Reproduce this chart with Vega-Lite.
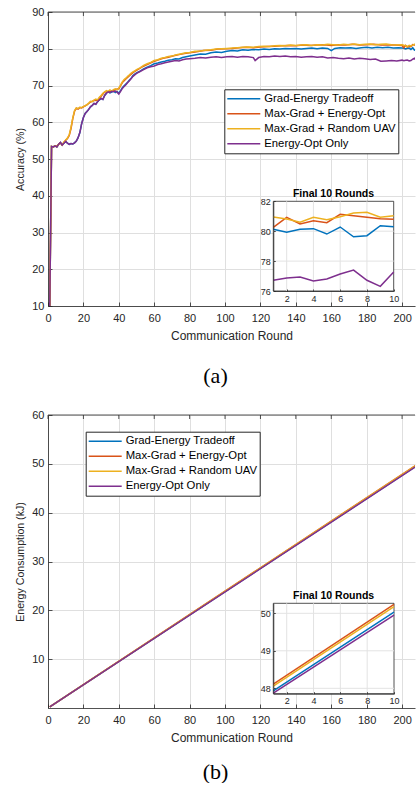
{
"$schema": "https://vega.github.io/schema/vega-lite/v6.json",
"background": "white",
"padding": {"left": 15, "top": 6, "right": 0, "bottom": 0},
"spacing": 22,
"config": {
  "font": "Liberation Sans",
  "view": {"stroke": null},
  "axis": {"labelFont": "Liberation Sans", "titleFont": "Liberation Sans", "labelColor": "#262626", "titleColor": "#262626", "domainColor": "#262626", "tickColor": "#262626", "titleFontWeight": "normal", "labelFontSize": 11, "titleFontSize": 12, "gridColor": "#dfdfdf", "gridWidth": 1, "domainWidth": 0.8, "tickWidth": 0.8, "labelFlush": false, "labelOverlap": false},
  "legend": {"orient": "none", "title": null, "symbolType": "stroke", "symbolSize": 1089, "symbolStrokeWidth": 1.5, "clipHeight": 15, "rowPadding": 0, "padding": 2, "labelFontSize": 11.3, "labelFont": "Liberation Sans", "labelColor": "black", "strokeColor": "#262626", "fillColor": "white", "labelOffset": 3, "labelLimit": 0},
  "title": {"font": "Liberation Serif", "fontSize": 22, "fontWeight": "normal", "color": "black", "orient": "bottom", "dx": -16}
},
"resolve": {"scale": {"color": "independent"}},
"datasets": {
  "acc": [
    {"m":"Grad-Energy Tradeoff","r":1,"v":10},{"m":"Grad-Energy Tradeoff","r":2,"v":53.4},{"m":"Grad-Energy Tradeoff","r":3,"v":53.3},{"m":"Grad-Energy Tradeoff","r":4,"v":53.6},{"m":"Grad-Energy Tradeoff","r":5,"v":53.3},{"m":"Grad-Energy Tradeoff","r":6,"v":54.0},{"m":"Grad-Energy Tradeoff","r":7,"v":54.5},{"m":"Grad-Energy Tradeoff","r":8,"v":53.8},{"m":"Grad-Energy Tradeoff","r":9,"v":54.3},{"m":"Grad-Energy Tradeoff","r":10,"v":54.8},{"m":"Grad-Energy Tradeoff","r":11,"v":54.3},{"m":"Grad-Energy Tradeoff","r":12,"v":54.0},{"m":"Grad-Energy Tradeoff","r":13,"v":54.2},{"m":"Grad-Energy Tradeoff","r":14,"v":54.1},{"m":"Grad-Energy Tradeoff","r":15,"v":54.4},{"m":"Grad-Energy Tradeoff","r":16,"v":54.9},{"m":"Grad-Energy Tradeoff","r":17,"v":55.8},{"m":"Grad-Energy Tradeoff","r":18,"v":57.2},{"m":"Grad-Energy Tradeoff","r":19,"v":59.6},{"m":"Grad-Energy Tradeoff","r":20,"v":61.3},{"m":"Grad-Energy Tradeoff","r":21,"v":62.4},{"m":"Grad-Energy Tradeoff","r":22,"v":62.9},{"m":"Grad-Energy Tradeoff","r":23,"v":63.5},{"m":"Grad-Energy Tradeoff","r":24,"v":64.2},{"m":"Grad-Energy Tradeoff","r":25,"v":64.6},{"m":"Grad-Energy Tradeoff","r":26,"v":65.1},{"m":"Grad-Energy Tradeoff","r":27,"v":64.9},{"m":"Grad-Energy Tradeoff","r":28,"v":65.6},{"m":"Grad-Energy Tradeoff","r":29,"v":66.1},{"m":"Grad-Energy Tradeoff","r":30,"v":66.5},{"m":"Grad-Energy Tradeoff","r":31,"v":66.2},{"m":"Grad-Energy Tradeoff","r":32,"v":67.3},{"m":"Grad-Energy Tradeoff","r":33,"v":67.9},{"m":"Grad-Energy Tradeoff","r":34,"v":68.3},{"m":"Grad-Energy Tradeoff","r":35,"v":68.0},{"m":"Grad-Energy Tradeoff","r":36,"v":68.2},{"m":"Grad-Energy Tradeoff","r":37,"v":68.5},{"m":"Grad-Energy Tradeoff","r":38,"v":68.1},{"m":"Grad-Energy Tradeoff","r":39,"v":68.4},{"m":"Grad-Energy Tradeoff","r":40,"v":67.9},{"m":"Grad-Energy Tradeoff","r":41,"v":68.6},{"m":"Grad-Energy Tradeoff","r":42,"v":69.4},{"m":"Grad-Energy Tradeoff","r":43,"v":69.9},{"m":"Grad-Energy Tradeoff","r":44,"v":70.4},{"m":"Grad-Energy Tradeoff","r":45,"v":70.9},{"m":"Grad-Energy Tradeoff","r":46,"v":71.5},{"m":"Grad-Energy Tradeoff","r":47,"v":72.0},{"m":"Grad-Energy Tradeoff","r":48,"v":72.7},{"m":"Grad-Energy Tradeoff","r":49,"v":73.1},{"m":"Grad-Energy Tradeoff","r":50,"v":73.4},{"m":"Grad-Energy Tradeoff","r":52,"v":73.9},{"m":"Grad-Energy Tradeoff","r":54,"v":74.5},{"m":"Grad-Energy Tradeoff","r":56,"v":75.0},{"m":"Grad-Energy Tradeoff","r":58,"v":75.4},{"m":"Grad-Energy Tradeoff","r":60,"v":75.9},{"m":"Grad-Energy Tradeoff","r":62,"v":76.1},{"m":"Grad-Energy Tradeoff","r":64,"v":76.4},{"m":"Grad-Energy Tradeoff","r":66,"v":76.6},{"m":"Grad-Energy Tradeoff","r":68,"v":76.9},{"m":"Grad-Energy Tradeoff","r":70,"v":77.0},{"m":"Grad-Energy Tradeoff","r":72,"v":77.3},{"m":"Grad-Energy Tradeoff","r":74,"v":77.2},{"m":"Grad-Energy Tradeoff","r":76,"v":77.6},{"m":"Grad-Energy Tradeoff","r":78,"v":77.8},{"m":"Grad-Energy Tradeoff","r":80,"v":78.0},{"m":"Grad-Energy Tradeoff","r":83,"v":78.3},{"m":"Grad-Energy Tradeoff","r":86,"v":78.6},{"m":"Grad-Energy Tradeoff","r":89,"v":78.5},{"m":"Grad-Energy Tradeoff","r":92,"v":78.9},{"m":"Grad-Energy Tradeoff","r":95,"v":79.1},{"m":"Grad-Energy Tradeoff","r":98,"v":79.0},{"m":"Grad-Energy Tradeoff","r":101,"v":79.3},{"m":"Grad-Energy Tradeoff","r":104,"v":79.5},{"m":"Grad-Energy Tradeoff","r":107,"v":79.4},{"m":"Grad-Energy Tradeoff","r":110,"v":79.7},{"m":"Grad-Energy Tradeoff","r":113,"v":79.6},{"m":"Grad-Energy Tradeoff","r":116,"v":79.8},{"m":"Grad-Energy Tradeoff","r":119,"v":79.7},{"m":"Grad-Energy Tradeoff","r":122,"v":79.9},{"m":"Grad-Energy Tradeoff","r":125,"v":79.8},{"m":"Grad-Energy Tradeoff","r":128,"v":80.0},{"m":"Grad-Energy Tradeoff","r":131,"v":79.9},{"m":"Grad-Energy Tradeoff","r":134,"v":80.1},{"m":"Grad-Energy Tradeoff","r":137,"v":80.0},{"m":"Grad-Energy Tradeoff","r":140,"v":80.1},{"m":"Grad-Energy Tradeoff","r":143,"v":79.9},{"m":"Grad-Energy Tradeoff","r":146,"v":80.1},{"m":"Grad-Energy Tradeoff","r":149,"v":80.2},{"m":"Grad-Energy Tradeoff","r":152,"v":80.0},{"m":"Grad-Energy Tradeoff","r":155,"v":80.2},{"m":"Grad-Energy Tradeoff","r":158,"v":80.1},{"m":"Grad-Energy Tradeoff","r":160,"v":79.5},{"m":"Grad-Energy Tradeoff","r":162,"v":80.1},{"m":"Grad-Energy Tradeoff","r":165,"v":80.3},{"m":"Grad-Energy Tradeoff","r":168,"v":80.2},{"m":"Grad-Energy Tradeoff","r":171,"v":80.3},{"m":"Grad-Energy Tradeoff","r":174,"v":80.1},{"m":"Grad-Energy Tradeoff","r":177,"v":80.3},{"m":"Grad-Energy Tradeoff","r":180,"v":80.4},{"m":"Grad-Energy Tradeoff","r":183,"v":80.2},{"m":"Grad-Energy Tradeoff","r":186,"v":80.4},{"m":"Grad-Energy Tradeoff","r":189,"v":80.3},{"m":"Grad-Energy Tradeoff","r":192,"v":80.4},{"m":"Grad-Energy Tradeoff","r":195,"v":80.2},{"m":"Grad-Energy Tradeoff","r":198,"v":80.3},{"m":"Grad-Energy Tradeoff","r":200,"v":80.2},{"m":"Grad-Energy Tradeoff","r":201,"v":80.13},{"m":"Grad-Energy Tradeoff","r":202,"v":79.93},{"m":"Grad-Energy Tradeoff","r":203,"v":80.13},{"m":"Grad-Energy Tradeoff","r":204,"v":80.17},{"m":"Grad-Energy Tradeoff","r":205,"v":79.81},{"m":"Grad-Energy Tradeoff","r":206,"v":80.28},{"m":"Grad-Energy Tradeoff","r":207,"v":79.63},{"m":"Grad-Energy Tradeoff","r":208,"v":79.7},{"m":"Grad-Energy Tradeoff","r":209,"v":80.37},{"m":"Grad-Energy Tradeoff","r":210,"v":80.3},
    {"m":"Max-Grad + Energy-Opt","r":1,"v":10},{"m":"Max-Grad + Energy-Opt","r":2,"v":53.4},{"m":"Max-Grad + Energy-Opt","r":3,"v":53.3},{"m":"Max-Grad + Energy-Opt","r":4,"v":53.6},{"m":"Max-Grad + Energy-Opt","r":5,"v":53.4},{"m":"Max-Grad + Energy-Opt","r":6,"v":54.0},{"m":"Max-Grad + Energy-Opt","r":7,"v":54.4},{"m":"Max-Grad + Energy-Opt","r":8,"v":53.8},{"m":"Max-Grad + Energy-Opt","r":9,"v":54.6},{"m":"Max-Grad + Energy-Opt","r":10,"v":55.1},{"m":"Max-Grad + Energy-Opt","r":11,"v":55.6},{"m":"Max-Grad + Energy-Opt","r":12,"v":56.4},{"m":"Max-Grad + Energy-Opt","r":13,"v":58.3},{"m":"Max-Grad + Energy-Opt","r":14,"v":61.0},{"m":"Max-Grad + Energy-Opt","r":15,"v":63.0},{"m":"Max-Grad + Energy-Opt","r":16,"v":63.8},{"m":"Max-Grad + Energy-Opt","r":17,"v":63.6},{"m":"Max-Grad + Energy-Opt","r":18,"v":64.0},{"m":"Max-Grad + Energy-Opt","r":19,"v":63.9},{"m":"Max-Grad + Energy-Opt","r":20,"v":64.2},{"m":"Max-Grad + Energy-Opt","r":22,"v":64.7},{"m":"Max-Grad + Energy-Opt","r":24,"v":65.5},{"m":"Max-Grad + Energy-Opt","r":26,"v":65.9},{"m":"Max-Grad + Energy-Opt","r":28,"v":66.0},{"m":"Max-Grad + Energy-Opt","r":30,"v":67.1},{"m":"Max-Grad + Energy-Opt","r":32,"v":68.2},{"m":"Max-Grad + Energy-Opt","r":34,"v":68.3},{"m":"Max-Grad + Energy-Opt","r":36,"v":68.4},{"m":"Max-Grad + Energy-Opt","r":38,"v":68.9},{"m":"Max-Grad + Energy-Opt","r":40,"v":69.1},{"m":"Max-Grad + Energy-Opt","r":42,"v":70.8},{"m":"Max-Grad + Energy-Opt","r":44,"v":71.8},{"m":"Max-Grad + Energy-Opt","r":46,"v":72.7},{"m":"Max-Grad + Energy-Opt","r":48,"v":73.5},{"m":"Max-Grad + Energy-Opt","r":50,"v":74.1},{"m":"Max-Grad + Energy-Opt","r":53,"v":75.0},{"m":"Max-Grad + Energy-Opt","r":56,"v":75.7},{"m":"Max-Grad + Energy-Opt","r":59,"v":76.4},{"m":"Max-Grad + Energy-Opt","r":62,"v":76.9},{"m":"Max-Grad + Energy-Opt","r":65,"v":77.4},{"m":"Max-Grad + Energy-Opt","r":68,"v":77.7},{"m":"Max-Grad + Energy-Opt","r":71,"v":78.1},{"m":"Max-Grad + Energy-Opt","r":74,"v":78.4},{"m":"Max-Grad + Energy-Opt","r":77,"v":78.7},{"m":"Max-Grad + Energy-Opt","r":80,"v":78.9},{"m":"Max-Grad + Energy-Opt","r":84,"v":79.2},{"m":"Max-Grad + Energy-Opt","r":88,"v":79.5},{"m":"Max-Grad + Energy-Opt","r":92,"v":79.6},{"m":"Max-Grad + Energy-Opt","r":96,"v":79.9},{"m":"Max-Grad + Energy-Opt","r":100,"v":80.0},{"m":"Max-Grad + Energy-Opt","r":104,"v":80.1},{"m":"Max-Grad + Energy-Opt","r":108,"v":80.3},{"m":"Max-Grad + Energy-Opt","r":112,"v":80.4},{"m":"Max-Grad + Energy-Opt","r":116,"v":80.3},{"m":"Max-Grad + Energy-Opt","r":120,"v":80.5},{"m":"Max-Grad + Energy-Opt","r":124,"v":80.6},{"m":"Max-Grad + Energy-Opt","r":128,"v":80.7},{"m":"Max-Grad + Energy-Opt","r":132,"v":80.8},{"m":"Max-Grad + Energy-Opt","r":136,"v":80.9},{"m":"Max-Grad + Energy-Opt","r":140,"v":80.8},{"m":"Max-Grad + Energy-Opt","r":144,"v":81.0},{"m":"Max-Grad + Energy-Opt","r":148,"v":80.9},{"m":"Max-Grad + Energy-Opt","r":152,"v":81.0},{"m":"Max-Grad + Energy-Opt","r":156,"v":81.1},{"m":"Max-Grad + Energy-Opt","r":160,"v":80.9},{"m":"Max-Grad + Energy-Opt","r":164,"v":81.1},{"m":"Max-Grad + Energy-Opt","r":168,"v":81.0},{"m":"Max-Grad + Energy-Opt","r":172,"v":81.2},{"m":"Max-Grad + Energy-Opt","r":176,"v":81.0},{"m":"Max-Grad + Energy-Opt","r":180,"v":81.1},{"m":"Max-Grad + Energy-Opt","r":184,"v":81.2},{"m":"Max-Grad + Energy-Opt","r":188,"v":81.0},{"m":"Max-Grad + Energy-Opt","r":192,"v":81.1},{"m":"Max-Grad + Energy-Opt","r":196,"v":81.0},{"m":"Max-Grad + Energy-Opt","r":200,"v":80.9},{"m":"Max-Grad + Energy-Opt","r":201,"v":80.26},{"m":"Max-Grad + Energy-Opt","r":202,"v":80.93},{"m":"Max-Grad + Energy-Opt","r":203,"v":80.48},{"m":"Max-Grad + Energy-Opt","r":204,"v":80.7},{"m":"Max-Grad + Energy-Opt","r":205,"v":80.57},{"m":"Max-Grad + Energy-Opt","r":206,"v":81.13},{"m":"Max-Grad + Energy-Opt","r":207,"v":81.04},{"m":"Max-Grad + Energy-Opt","r":208,"v":80.93},{"m":"Max-Grad + Energy-Opt","r":209,"v":80.84},{"m":"Max-Grad + Energy-Opt","r":210,"v":80.8},
    {"m":"Max-Grad + Random UAV","r":1,"v":10},{"m":"Max-Grad + Random UAV","r":2,"v":53.4},{"m":"Max-Grad + Random UAV","r":3,"v":53.3},{"m":"Max-Grad + Random UAV","r":4,"v":53.6},{"m":"Max-Grad + Random UAV","r":5,"v":53.4},{"m":"Max-Grad + Random UAV","r":6,"v":54.0},{"m":"Max-Grad + Random UAV","r":7,"v":54.4},{"m":"Max-Grad + Random UAV","r":8,"v":53.8},{"m":"Max-Grad + Random UAV","r":9,"v":54.6},{"m":"Max-Grad + Random UAV","r":10,"v":55.2},{"m":"Max-Grad + Random UAV","r":11,"v":55.7},{"m":"Max-Grad + Random UAV","r":12,"v":56.6},{"m":"Max-Grad + Random UAV","r":13,"v":58.6},{"m":"Max-Grad + Random UAV","r":14,"v":61.2},{"m":"Max-Grad + Random UAV","r":15,"v":63.2},{"m":"Max-Grad + Random UAV","r":16,"v":63.9},{"m":"Max-Grad + Random UAV","r":17,"v":63.7},{"m":"Max-Grad + Random UAV","r":18,"v":64.1},{"m":"Max-Grad + Random UAV","r":19,"v":64.0},{"m":"Max-Grad + Random UAV","r":20,"v":64.3},{"m":"Max-Grad + Random UAV","r":21,"v":64.5},{"m":"Max-Grad + Random UAV","r":22,"v":64.8},{"m":"Max-Grad + Random UAV","r":23,"v":65.2},{"m":"Max-Grad + Random UAV","r":24,"v":65.7},{"m":"Max-Grad + Random UAV","r":25,"v":65.6},{"m":"Max-Grad + Random UAV","r":26,"v":66.0},{"m":"Max-Grad + Random UAV","r":27,"v":66.3},{"m":"Max-Grad + Random UAV","r":28,"v":66.1},{"m":"Max-Grad + Random UAV","r":29,"v":66.8},{"m":"Max-Grad + Random UAV","r":30,"v":67.3},{"m":"Max-Grad + Random UAV","r":31,"v":67.9},{"m":"Max-Grad + Random UAV","r":32,"v":68.3},{"m":"Max-Grad + Random UAV","r":33,"v":68.6},{"m":"Max-Grad + Random UAV","r":34,"v":68.4},{"m":"Max-Grad + Random UAV","r":35,"v":68.8},{"m":"Max-Grad + Random UAV","r":36,"v":68.5},{"m":"Max-Grad + Random UAV","r":37,"v":68.9},{"m":"Max-Grad + Random UAV","r":38,"v":69.1},{"m":"Max-Grad + Random UAV","r":39,"v":68.8},{"m":"Max-Grad + Random UAV","r":40,"v":69.3},{"m":"Max-Grad + Random UAV","r":41,"v":70.1},{"m":"Max-Grad + Random UAV","r":42,"v":71.0},{"m":"Max-Grad + Random UAV","r":43,"v":71.6},{"m":"Max-Grad + Random UAV","r":44,"v":72.0},{"m":"Max-Grad + Random UAV","r":45,"v":72.5},{"m":"Max-Grad + Random UAV","r":46,"v":72.9},{"m":"Max-Grad + Random UAV","r":47,"v":73.4},{"m":"Max-Grad + Random UAV","r":48,"v":73.7},{"m":"Max-Grad + Random UAV","r":49,"v":74.0},{"m":"Max-Grad + Random UAV","r":50,"v":74.3},{"m":"Max-Grad + Random UAV","r":52,"v":74.8},{"m":"Max-Grad + Random UAV","r":54,"v":75.5},{"m":"Max-Grad + Random UAV","r":56,"v":75.9},{"m":"Max-Grad + Random UAV","r":58,"v":76.3},{"m":"Max-Grad + Random UAV","r":60,"v":76.8},{"m":"Max-Grad + Random UAV","r":62,"v":77.0},{"m":"Max-Grad + Random UAV","r":64,"v":77.4},{"m":"Max-Grad + Random UAV","r":66,"v":77.6},{"m":"Max-Grad + Random UAV","r":68,"v":77.9},{"m":"Max-Grad + Random UAV","r":70,"v":78.0},{"m":"Max-Grad + Random UAV","r":72,"v":78.3},{"m":"Max-Grad + Random UAV","r":74,"v":78.5},{"m":"Max-Grad + Random UAV","r":76,"v":78.7},{"m":"Max-Grad + Random UAV","r":78,"v":78.9},{"m":"Max-Grad + Random UAV","r":80,"v":79.0},{"m":"Max-Grad + Random UAV","r":83,"v":79.3},{"m":"Max-Grad + Random UAV","r":86,"v":79.4},{"m":"Max-Grad + Random UAV","r":89,"v":79.6},{"m":"Max-Grad + Random UAV","r":92,"v":79.7},{"m":"Max-Grad + Random UAV","r":95,"v":79.9},{"m":"Max-Grad + Random UAV","r":98,"v":80.0},{"m":"Max-Grad + Random UAV","r":101,"v":80.1},{"m":"Max-Grad + Random UAV","r":104,"v":80.2},{"m":"Max-Grad + Random UAV","r":107,"v":80.3},{"m":"Max-Grad + Random UAV","r":110,"v":80.4},{"m":"Max-Grad + Random UAV","r":113,"v":80.5},{"m":"Max-Grad + Random UAV","r":116,"v":80.4},{"m":"Max-Grad + Random UAV","r":119,"v":80.6},{"m":"Max-Grad + Random UAV","r":122,"v":80.7},{"m":"Max-Grad + Random UAV","r":125,"v":80.6},{"m":"Max-Grad + Random UAV","r":128,"v":80.8},{"m":"Max-Grad + Random UAV","r":131,"v":80.9},{"m":"Max-Grad + Random UAV","r":134,"v":80.8},{"m":"Max-Grad + Random UAV","r":137,"v":81.0},{"m":"Max-Grad + Random UAV","r":140,"v":80.9},{"m":"Max-Grad + Random UAV","r":143,"v":81.0},{"m":"Max-Grad + Random UAV","r":146,"v":81.1},{"m":"Max-Grad + Random UAV","r":149,"v":80.9},{"m":"Max-Grad + Random UAV","r":152,"v":81.1},{"m":"Max-Grad + Random UAV","r":155,"v":81.0},{"m":"Max-Grad + Random UAV","r":158,"v":81.2},{"m":"Max-Grad + Random UAV","r":161,"v":81.1},{"m":"Max-Grad + Random UAV","r":164,"v":81.0},{"m":"Max-Grad + Random UAV","r":167,"v":81.2},{"m":"Max-Grad + Random UAV","r":170,"v":81.1},{"m":"Max-Grad + Random UAV","r":173,"v":81.3},{"m":"Max-Grad + Random UAV","r":176,"v":81.1},{"m":"Max-Grad + Random UAV","r":179,"v":81.2},{"m":"Max-Grad + Random UAV","r":182,"v":81.3},{"m":"Max-Grad + Random UAV","r":185,"v":81.1},{"m":"Max-Grad + Random UAV","r":188,"v":81.2},{"m":"Max-Grad + Random UAV","r":191,"v":81.3},{"m":"Max-Grad + Random UAV","r":194,"v":81.1},{"m":"Max-Grad + Random UAV","r":197,"v":81.0},{"m":"Max-Grad + Random UAV","r":200,"v":81.1},{"m":"Max-Grad + Random UAV","r":201,"v":80.95},{"m":"Max-Grad + Random UAV","r":202,"v":80.82},{"m":"Max-Grad + Random UAV","r":203,"v":80.6},{"m":"Max-Grad + Random UAV","r":204,"v":80.93},{"m":"Max-Grad + Random UAV","r":205,"v":80.77},{"m":"Max-Grad + Random UAV","r":206,"v":80.97},{"m":"Max-Grad + Random UAV","r":207,"v":81.22},{"m":"Max-Grad + Random UAV","r":208,"v":81.26},{"m":"Max-Grad + Random UAV","r":209,"v":80.93},{"m":"Max-Grad + Random UAV","r":210,"v":81.04},
    {"m":"Energy-Opt Only","r":1,"v":10},{"m":"Energy-Opt Only","r":2,"v":53.4},{"m":"Energy-Opt Only","r":3,"v":53.3},{"m":"Energy-Opt Only","r":4,"v":53.6},{"m":"Energy-Opt Only","r":5,"v":53.3},{"m":"Energy-Opt Only","r":6,"v":54.0},{"m":"Energy-Opt Only","r":7,"v":54.5},{"m":"Energy-Opt Only","r":8,"v":53.8},{"m":"Energy-Opt Only","r":9,"v":54.3},{"m":"Energy-Opt Only","r":10,"v":54.8},{"m":"Energy-Opt Only","r":11,"v":54.3},{"m":"Energy-Opt Only","r":12,"v":54.0},{"m":"Energy-Opt Only","r":13,"v":54.2},{"m":"Energy-Opt Only","r":14,"v":54.1},{"m":"Energy-Opt Only","r":15,"v":54.4},{"m":"Energy-Opt Only","r":16,"v":54.9},{"m":"Energy-Opt Only","r":17,"v":55.8},{"m":"Energy-Opt Only","r":18,"v":57.2},{"m":"Energy-Opt Only","r":19,"v":59.6},{"m":"Energy-Opt Only","r":20,"v":61.3},{"m":"Energy-Opt Only","r":21,"v":62.4},{"m":"Energy-Opt Only","r":22,"v":62.9},{"m":"Energy-Opt Only","r":23,"v":63.5},{"m":"Energy-Opt Only","r":24,"v":64.2},{"m":"Energy-Opt Only","r":25,"v":64.6},{"m":"Energy-Opt Only","r":26,"v":65.1},{"m":"Energy-Opt Only","r":27,"v":64.9},{"m":"Energy-Opt Only","r":28,"v":65.6},{"m":"Energy-Opt Only","r":29,"v":66.1},{"m":"Energy-Opt Only","r":30,"v":66.5},{"m":"Energy-Opt Only","r":31,"v":66.2},{"m":"Energy-Opt Only","r":32,"v":67.3},{"m":"Energy-Opt Only","r":33,"v":67.9},{"m":"Energy-Opt Only","r":34,"v":68.3},{"m":"Energy-Opt Only","r":35,"v":68.1},{"m":"Energy-Opt Only","r":36,"v":68.4},{"m":"Energy-Opt Only","r":37,"v":68.3},{"m":"Energy-Opt Only","r":38,"v":68.5},{"m":"Energy-Opt Only","r":39,"v":68.2},{"m":"Energy-Opt Only","r":40,"v":67.7},{"m":"Energy-Opt Only","r":41,"v":68.4},{"m":"Energy-Opt Only","r":42,"v":69.2},{"m":"Energy-Opt Only","r":43,"v":69.7},{"m":"Energy-Opt Only","r":44,"v":70.2},{"m":"Energy-Opt Only","r":45,"v":70.8},{"m":"Energy-Opt Only","r":46,"v":71.3},{"m":"Energy-Opt Only","r":47,"v":71.9},{"m":"Energy-Opt Only","r":48,"v":72.5},{"m":"Energy-Opt Only","r":49,"v":72.9},{"m":"Energy-Opt Only","r":50,"v":73.3},{"m":"Energy-Opt Only","r":52,"v":73.8},{"m":"Energy-Opt Only","r":54,"v":74.3},{"m":"Energy-Opt Only","r":56,"v":74.8},{"m":"Energy-Opt Only","r":58,"v":75.1},{"m":"Energy-Opt Only","r":60,"v":75.3},{"m":"Energy-Opt Only","r":62,"v":75.7},{"m":"Energy-Opt Only","r":64,"v":75.9},{"m":"Energy-Opt Only","r":66,"v":76.2},{"m":"Energy-Opt Only","r":68,"v":76.4},{"m":"Energy-Opt Only","r":70,"v":76.6},{"m":"Energy-Opt Only","r":72,"v":76.8},{"m":"Energy-Opt Only","r":74,"v":76.7},{"m":"Energy-Opt Only","r":76,"v":77.0},{"m":"Energy-Opt Only","r":78,"v":77.2},{"m":"Energy-Opt Only","r":80,"v":77.3},{"m":"Energy-Opt Only","r":83,"v":77.4},{"m":"Energy-Opt Only","r":86,"v":77.6},{"m":"Energy-Opt Only","r":89,"v":77.5},{"m":"Energy-Opt Only","r":92,"v":77.7},{"m":"Energy-Opt Only","r":95,"v":77.8},{"m":"Energy-Opt Only","r":98,"v":77.6},{"m":"Energy-Opt Only","r":101,"v":77.8},{"m":"Energy-Opt Only","r":104,"v":77.9},{"m":"Energy-Opt Only","r":107,"v":77.7},{"m":"Energy-Opt Only","r":110,"v":77.9},{"m":"Energy-Opt Only","r":113,"v":77.8},{"m":"Energy-Opt Only","r":116,"v":77.6},{"m":"Energy-Opt Only","r":117,"v":76.8},{"m":"Energy-Opt Only","r":119,"v":77.6},{"m":"Energy-Opt Only","r":122,"v":77.9},{"m":"Energy-Opt Only","r":125,"v":77.8},{"m":"Energy-Opt Only","r":128,"v":78.0},{"m":"Energy-Opt Only","r":131,"v":77.9},{"m":"Energy-Opt Only","r":134,"v":78.0},{"m":"Energy-Opt Only","r":137,"v":77.8},{"m":"Energy-Opt Only","r":140,"v":77.9},{"m":"Energy-Opt Only","r":143,"v":77.7},{"m":"Energy-Opt Only","r":146,"v":77.8},{"m":"Energy-Opt Only","r":149,"v":77.9},{"m":"Energy-Opt Only","r":152,"v":77.7},{"m":"Energy-Opt Only","r":155,"v":77.8},{"m":"Energy-Opt Only","r":158,"v":77.5},{"m":"Energy-Opt Only","r":161,"v":77.6},{"m":"Energy-Opt Only","r":164,"v":77.4},{"m":"Energy-Opt Only","r":167,"v":77.3},{"m":"Energy-Opt Only","r":170,"v":77.5},{"m":"Energy-Opt Only","r":173,"v":77.2},{"m":"Energy-Opt Only","r":176,"v":77.4},{"m":"Energy-Opt Only","r":179,"v":77.3},{"m":"Energy-Opt Only","r":182,"v":77.1},{"m":"Energy-Opt Only","r":185,"v":77.2},{"m":"Energy-Opt Only","r":188,"v":76.6},{"m":"Energy-Opt Only","r":191,"v":76.7},{"m":"Energy-Opt Only","r":194,"v":76.8},{"m":"Energy-Opt Only","r":197,"v":76.7},{"m":"Energy-Opt Only","r":200,"v":76.9},{"m":"Energy-Opt Only","r":201,"v":76.72},{"m":"Energy-Opt Only","r":202,"v":76.87},{"m":"Energy-Opt Only","r":203,"v":76.94},{"m":"Energy-Opt Only","r":204,"v":76.67},{"m":"Energy-Opt Only","r":205,"v":76.8},{"m":"Energy-Opt Only","r":206,"v":77.14},{"m":"Energy-Opt Only","r":207,"v":77.4},{"m":"Energy-Opt Only","r":208,"v":76.72},{"m":"Energy-Opt Only","r":209,"v":76.31},{"m":"Energy-Opt Only","r":210,"v":77.27}
  ],
  "accFinal": [
    {"m":"Grad-Energy Tradeoff","i":1,"v":80.13},{"m":"Grad-Energy Tradeoff","i":2,"v":79.93},{"m":"Grad-Energy Tradeoff","i":3,"v":80.13},{"m":"Grad-Energy Tradeoff","i":4,"v":80.17},{"m":"Grad-Energy Tradeoff","i":5,"v":79.81},{"m":"Grad-Energy Tradeoff","i":6,"v":80.28},{"m":"Grad-Energy Tradeoff","i":7,"v":79.63},{"m":"Grad-Energy Tradeoff","i":8,"v":79.7},{"m":"Grad-Energy Tradeoff","i":9,"v":80.37},{"m":"Grad-Energy Tradeoff","i":10,"v":80.3},
    {"m":"Max-Grad + Energy-Opt","i":1,"v":80.26},{"m":"Max-Grad + Energy-Opt","i":2,"v":80.93},{"m":"Max-Grad + Energy-Opt","i":3,"v":80.48},{"m":"Max-Grad + Energy-Opt","i":4,"v":80.7},{"m":"Max-Grad + Energy-Opt","i":5,"v":80.57},{"m":"Max-Grad + Energy-Opt","i":6,"v":81.13},{"m":"Max-Grad + Energy-Opt","i":7,"v":81.04},{"m":"Max-Grad + Energy-Opt","i":8,"v":80.93},{"m":"Max-Grad + Energy-Opt","i":9,"v":80.84},{"m":"Max-Grad + Energy-Opt","i":10,"v":80.8},
    {"m":"Max-Grad + Random UAV","i":1,"v":80.95},{"m":"Max-Grad + Random UAV","i":2,"v":80.82},{"m":"Max-Grad + Random UAV","i":3,"v":80.6},{"m":"Max-Grad + Random UAV","i":4,"v":80.93},{"m":"Max-Grad + Random UAV","i":5,"v":80.77},{"m":"Max-Grad + Random UAV","i":6,"v":80.97},{"m":"Max-Grad + Random UAV","i":7,"v":81.22},{"m":"Max-Grad + Random UAV","i":8,"v":81.26},{"m":"Max-Grad + Random UAV","i":9,"v":80.93},{"m":"Max-Grad + Random UAV","i":10,"v":81.04},
    {"m":"Energy-Opt Only","i":1,"v":76.72},{"m":"Energy-Opt Only","i":2,"v":76.87},{"m":"Energy-Opt Only","i":3,"v":76.94},{"m":"Energy-Opt Only","i":4,"v":76.67},{"m":"Energy-Opt Only","i":5,"v":76.8},{"m":"Energy-Opt Only","i":6,"v":77.14},{"m":"Energy-Opt Only","i":7,"v":77.4},{"m":"Energy-Opt Only","i":8,"v":76.72},{"m":"Energy-Opt Only","i":9,"v":76.31},{"m":"Energy-Opt Only","i":10,"v":77.27}
  ],
  "energy": [
    {"m":"Grad-Energy Tradeoff","r":1,"v":0.24},{"m":"Grad-Energy Tradeoff","r":210,"v":50.03},
    {"m":"Max-Grad + Energy-Opt","r":1,"v":0.25},{"m":"Max-Grad + Energy-Opt","r":210,"v":50.24},
    {"m":"Max-Grad + Random UAV","r":1,"v":0.25},{"m":"Max-Grad + Random UAV","r":210,"v":50.18},
    {"m":"Energy-Opt Only","r":1,"v":0.23},{"m":"Energy-Opt Only","r":210,"v":49.95}
  ],
  "energyFinal": [
    {"m":"Grad-Energy Tradeoff","i":1,"v":47.93},{"m":"Grad-Energy Tradeoff","i":10,"v":50.03},
    {"m":"Max-Grad + Energy-Opt","i":1,"v":48.11},{"m":"Max-Grad + Energy-Opt","i":10,"v":50.24},
    {"m":"Max-Grad + Random UAV","i":1,"v":48.06},{"m":"Max-Grad + Random UAV","i":10,"v":50.18},
    {"m":"Energy-Opt Only","i":1,"v":47.87},{"m":"Energy-Opt Only","i":10,"v":49.95}
  ],
  "gridA": [{"g":2},{"g":4},{"g":6},{"g":8}],
  "gridAy": [{"h":78},{"h":80}],
  "gridBy": [{"h":48},{"h":49},{"h":50}],
  "topTicks": [{"t":0},{"t":20},{"t":40},{"t":60},{"t":80},{"t":100},{"t":120},{"t":140},{"t":160},{"t":180},{"t":200}],
  "one": [{"k":1}]
},
"vconcat": [
  {
    "width": 367, "height": 294,
    "title": {"text": "(a)", "offset": 25},
    "resolve": {"scale": {"x": "independent", "y": "independent"}},
    "layer": [
      {
        "layer": [
          {"data": {"name": "acc"},
           "mark": {"type": "line", "clip": true, "strokeWidth": 1.5},
           "encoding": {
             "x": {"field": "r", "type": "quantitative", "scale": {"domain": [0, 207.3], "nice": false, "zero": false},
                   "axis": {"title": "Communication Round", "values": [0,20,40,60,80,100,120,140,160,180,200], "tickCount": 11, "grid": true, "tickSize": -4, "labelPadding": 10, "titlePadding": 7, "labelOverlap": false, "labelSeparation": 0}},
             "y": {"field": "v", "type": "quantitative", "scale": {"domain": [10, 90], "nice": false, "zero": false},
                   "axis": {"title": "Accuracy (%)", "titleFontSize": 10.6, "values": [10,20,30,40,50,60,70,80,90], "tickCount": 9, "grid": true, "tickSize": -4, "labelPadding": 8, "titlePadding": 6, "labelOverlap": false, "labelSeparation": 0}},
             "color": {"field": "m", "type": "nominal", "sort": null,
                       "scale": {"domain": ["Grad-Energy Tradeoff", "Max-Grad + Energy-Opt", "Max-Grad + Random UAV", "Energy-Opt Only"], "range": ["#0072BD", "#D95319", "#EDB120", "#7E2F8E"]},
                       "legend": {"legendX": 176.3, "legendY": 77.3, "labelFontSize": 11.3}}
           }},
          {"data": {"name": "one"},
           "mark": {"type": "rule", "color": "#262626", "strokeWidth": 0.8},
           "encoding": {"y": {"datum": 90, "type": "quantitative", "scale": {"domain": [10, 90], "nice": false, "zero": false},
                   "axis": {"title": "Accuracy (%)", "titleFontSize": 10.6, "values": [10,20,30,40,50,60,70,80,90], "tickCount": 9, "grid": true, "tickSize": -4, "labelPadding": 8, "titlePadding": 6, "labelOverlap": false, "labelSeparation": 0}}}},
          {"data": {"name": "topTicks"},
           "mark": {"type": "rule", "color": "#262626", "strokeWidth": 0.8},
           "encoding": {
             "x": {"field": "t", "type": "quantitative", "scale": {"domain": [0, 207.3], "nice": false, "zero": false},
                   "axis": {"title": "Communication Round", "values": [0,20,40,60,80,100,120,140,160,180,200], "tickCount": 11, "grid": true, "tickSize": -4, "labelPadding": 10, "titlePadding": 7, "labelOverlap": false, "labelSeparation": 0}},
             "y": {"datum": 90, "type": "quantitative", "scale": {"domain": [10, 90], "nice": false, "zero": false},
                   "axis": {"title": "Accuracy (%)", "titleFontSize": 10.6, "values": [10,20,30,40,50,60,70,80,90], "tickCount": 9, "grid": true, "tickSize": -4, "labelPadding": 8, "titlePadding": 6, "labelOverlap": false, "labelSeparation": 0}},
             "y2": {"datum": 88.9}
           }}
        ]
      },
      {
        "layer": [
          {"data": {"name": "one"},
           "mark": {"type": "rect", "fill": "white", "stroke": "#262626", "strokeWidth": 0.8},
           "encoding": {
             "x": {"datum": 1, "type": "quantitative"},
             "x2": {"datum": 10},
             "y": {"datum": 76, "type": "quantitative"},
             "y2": {"datum": 82}
           }},
          {"data": {"name": "gridA"},
           "mark": {"type": "rule", "color": "#e3e3e3", "strokeWidth": 1},
           "encoding": {"x": {"field": "g", "type": "quantitative"}, "y": {"datum": 76, "type": "quantitative"}, "y2": {"datum": 82}}},
          {"data": {"name": "gridAy"},
           "mark": {"type": "rule", "color": "#e3e3e3", "strokeWidth": 1},
           "encoding": {"y": {"field": "h", "type": "quantitative"}, "x": {"datum": 1, "type": "quantitative"}, "x2": {"datum": 10}}},
          {"data": {"name": "accFinal"},
           "mark": {"type": "line", "strokeWidth": 1.5},
           "encoding": {
             "x": {"field": "i", "type": "quantitative", "scale": {"domain": [1, 10], "range": [225.3, 345.7], "nice": false, "zero": false},
                   "axis": {"orient": "bottom", "offset": -15, "title": null, "values": [2,4,6,8,10], "grid": false, "labelFontSize": 9, "tickSize": -2, "labelPadding": 5, "zindex": 1, "labelOverlap": false}},
             "y": {"field": "v", "type": "quantitative", "scale": {"domain": [76, 82], "range": [279, 189.3], "nice": false, "zero": false},
                   "axis": {"orient": "left", "offset": -225.3, "title": null, "values": [76,78,80,82], "grid": false, "labelFontSize": 9, "tickSize": -2, "labelPadding": 5, "zindex": 1, "labelOverlap": false}},
             "color": {"field": "m", "type": "nominal", "sort": null, "legend": null}
           }},
          {"data": {"name": "one"},
           "mark": {"type": "text", "text": "Final 10 Rounds", "fontWeight": "bold", "fontSize": 10.5, "baseline": "bottom", "dy": -2, "color": "#000000"},
           "encoding": {"x": {"datum": 5.5, "type": "quantitative"}, "y": {"datum": 82, "type": "quantitative"}}}
        ]
      }
    ]
  },
  {
    "width": 367, "height": 293,
    "title": {"text": "(b)", "offset": 19},
    "resolve": {"scale": {"x": "independent", "y": "independent"}},
    "layer": [
      {
        "layer": [
          {"data": {"name": "energy"},
           "mark": {"type": "line", "clip": true, "strokeWidth": 1.5},
           "encoding": {
             "x": {"field": "r", "type": "quantitative", "scale": {"domain": [0, 207.3], "nice": false, "zero": false},
                   "axis": {"title": "Communication Round", "values": [0,20,40,60,80,100,120,140,160,180,200], "tickCount": 11, "grid": true, "tickSize": -4, "labelPadding": 10, "titlePadding": 7, "labelOverlap": false, "labelSeparation": 0}},
             "y": {"field": "v", "type": "quantitative", "scale": {"domain": [0, 60], "nice": false, "zero": false},
                   "axis": {"title": "Energy Consumption (kJ)", "titleFontSize": 10.6, "values": [10,20,30,40,50,60], "tickCount": 6, "grid": true, "tickSize": -4, "labelPadding": 8, "titlePadding": 6, "labelOverlap": false, "labelSeparation": 0}},
             "color": {"field": "m", "type": "nominal", "sort": null,
                       "scale": {"domain": ["Grad-Energy Tradeoff", "Max-Grad + Energy-Opt", "Max-Grad + Random UAV", "Energy-Opt Only"], "range": ["#0072BD", "#D95319", "#EDB120", "#7E2F8E"]},
                       "legend": {"legendX": 37.7, "legendY": 16.7, "labelFontSize": 11.3}}
           }},
          {"data": {"name": "one"},
           "mark": {"type": "rule", "color": "#262626", "strokeWidth": 0.8},
           "encoding": {"y": {"datum": 60, "type": "quantitative", "scale": {"domain": [0, 60], "nice": false, "zero": false},
                   "axis": {"title": "Energy Consumption (kJ)", "titleFontSize": 10.6, "values": [10,20,30,40,50,60], "tickCount": 6, "grid": true, "tickSize": -4, "labelPadding": 8, "titlePadding": 6, "labelOverlap": false, "labelSeparation": 0}}}},
          {"data": {"name": "topTicks"},
           "mark": {"type": "rule", "color": "#262626", "strokeWidth": 0.8},
           "encoding": {
             "x": {"field": "t", "type": "quantitative", "scale": {"domain": [0, 207.3], "nice": false, "zero": false},
                   "axis": {"title": "Communication Round", "values": [0,20,40,60,80,100,120,140,160,180,200], "tickCount": 11, "grid": true, "tickSize": -4, "labelPadding": 10, "titlePadding": 7, "labelOverlap": false, "labelSeparation": 0}},
             "y": {"datum": 60, "type": "quantitative", "scale": {"domain": [0, 60], "nice": false, "zero": false},
                   "axis": {"title": "Energy Consumption (kJ)", "titleFontSize": 10.6, "values": [10,20,30,40,50,60], "tickCount": 6, "grid": true, "tickSize": -4, "labelPadding": 8, "titlePadding": 6, "labelOverlap": false, "labelSeparation": 0}},
             "y2": {"datum": 59.18}
           }}
        ]
      },
      {
        "layer": [
          {"data": {"name": "one"},
           "mark": {"type": "rect", "fill": "white", "stroke": "#262626", "strokeWidth": 0.8},
           "encoding": {
             "x": {"datum": 1, "type": "quantitative"},
             "x2": {"datum": 10},
             "y": {"datum": 47.856, "type": "quantitative"},
             "y2": {"datum": 50.267}
           }},
          {"data": {"name": "gridA"},
           "mark": {"type": "rule", "color": "#e3e3e3", "strokeWidth": 1},
           "encoding": {"x": {"field": "g", "type": "quantitative"}, "y": {"datum": 47.856, "type": "quantitative"}, "y2": {"datum": 50.267}}},
          {"data": {"name": "gridBy"},
           "mark": {"type": "rule", "color": "#e3e3e3", "strokeWidth": 1},
           "encoding": {"y": {"field": "h", "type": "quantitative"}, "x": {"datum": 1, "type": "quantitative"}, "x2": {"datum": 10}}},
          {"data": {"name": "energyFinal"},
           "mark": {"type": "line", "strokeWidth": 1.5},
           "encoding": {
             "x": {"field": "i", "type": "quantitative", "scale": {"domain": [1, 10], "range": [225.3, 346], "nice": false, "zero": false},
                   "axis": {"orient": "bottom", "offset": -14.3, "title": null, "values": [2,4,6,8,10], "grid": false, "labelFontSize": 9, "tickSize": -2, "labelPadding": 5, "zindex": 1, "labelOverlap": false}},
             "y": {"field": "v", "type": "quantitative", "scale": {"domain": [47.856, 50.267], "range": [278.7, 188.3], "nice": false, "zero": false},
                   "axis": {"orient": "left", "offset": -225.3, "title": null, "values": [48,49,50], "format": "d", "grid": false, "labelFontSize": 9, "tickSize": -2, "labelPadding": 5, "zindex": 1, "labelOverlap": false}},
             "color": {"field": "m", "type": "nominal", "sort": null, "legend": null}
           }},
          {"data": {"name": "one"},
           "mark": {"type": "text", "text": "Final 10 Rounds", "fontWeight": "bold", "fontSize": 10.5, "baseline": "bottom", "dy": -2, "color": "#000000"},
           "encoding": {"x": {"datum": 5.5, "type": "quantitative"}, "y": {"datum": 50.267, "type": "quantitative"}}}
        ]
      }
    ]
  }
]
}
